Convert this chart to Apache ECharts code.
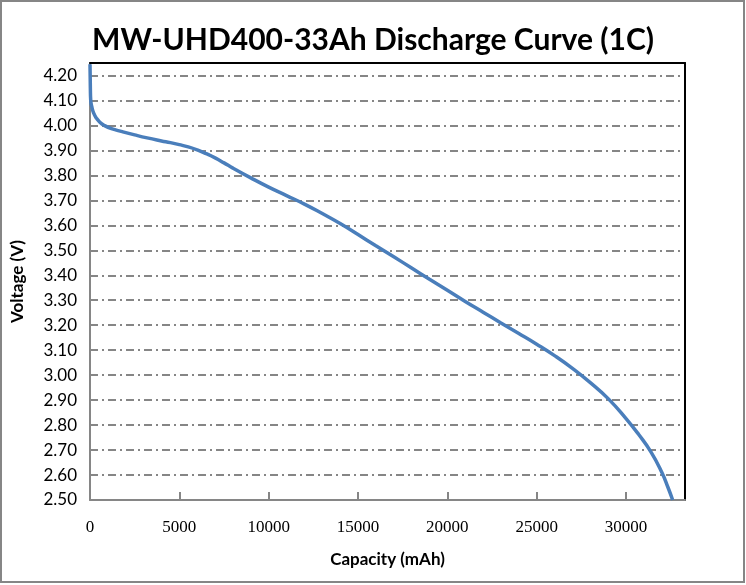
<!DOCTYPE html>
<html>
<head>
<meta charset="utf-8">
<script src="https://cdn.jsdelivr.net/npm/echarts@6/dist/echarts.min.js"></script>
<style>
  html, body { margin: 0; padding: 0; background: #fff; }
  #chart { width: 746px; height: 585px; }
</style>
</head>
<body>
<div id="chart"></div>
<script>
// discharge curve
const capacity = [0, 20, 40, 100, 200, 350, 550, 800, 1200, 1800, 2500, 3200, 4000, 4500,
  5000, 5500, 6000, 6500, 7000, 7500, 8000, 9000, 10000, 11000, 12000, 13000, 14000, 15000,
  16000, 17000, 18000, 19000, 20000, 21000, 22000, 23000, 24000, 25000, 26000, 27000, 28000,
  29000, 30000, 30700, 31400, 32000, 32350, 32609];
const voltage = [4.245, 4.15, 4.10, 4.075, 4.05, 4.03, 4.013, 4.00, 3.987, 3.975, 3.962,
  3.950, 3.938, 3.931, 3.923, 3.914, 3.902, 3.887, 3.870, 3.850, 3.829, 3.790, 3.753, 3.719,
  3.685, 3.647, 3.607, 3.563, 3.518, 3.474, 3.429, 3.384, 3.340, 3.295, 3.252, 3.209, 3.167,
  3.124, 3.078, 3.027, 2.970, 2.906, 2.826, 2.763, 2.692, 2.611, 2.550, 2.50];

const chartTitle = 'MW-UHD400-33Ah Discharge Curve (1C)';
const xName = 'Capacity (mAh)';
const yName = 'Voltage (V)';

const points = capacity.map((c, i) => [c, voltage[i]]);

const chart = echarts.init(document.getElementById('chart'));

const option = {
  animation: false,
  backgroundColor: '#fff',
  title: {
    text: chartTitle,
    left: 'center',
    top: 20,
    textStyle: { fontFamily: 'Lato', fontWeight: 'bold', fontSize: 30, color: '#000' },
  },
  grid: { left: 90, right: 61, top: 63, bottom: 85 },
  xAxis: [
    {
      type: 'value',
      min: 0,
      max: 33300,
      interval: 5000,
      name: xName,
      nameLocation: 'middle',
      nameGap: 51,
      nameTextStyle: { fontFamily: 'Lato', fontWeight: 'bold', fontSize: 17, color: '#000' },
      axisLine: { lineStyle: { color: '#868686', width: 2 } },
      axisTick: { inside: true, length: 8, lineStyle: { color: '#868686', width: 2 } },
      axisLabel: {
        showMaxLabel: false,
        margin: 19,
        fontFamily: 'Liberation Serif',
        fontSize: 17,
        color: '#000',
        formatter: v => String(v),
      },
      splitLine: { show: false },
    },
    {
      type: 'value',
      position: 'top',
      min: 0,
      max: 33300,
      axisLine: { onZero: false, lineStyle: { color: '#000', width: 2 } },
      axisTick: { show: false },
      axisLabel: { show: false },
      splitLine: { show: false },
    },
  ],
  yAxis: [
    {
      type: 'value',
      min: 2.5,
      max: 4.25,
      interval: 0.1,
      name: yName,
      nameLocation: 'middle',
      nameGap: 64,
      nameTextStyle: { fontFamily: 'Lato', fontWeight: 'bold', fontSize: 17, color: '#000' },
      axisLine: { onZero: false, lineStyle: { color: '#868686', width: 2 } },
      axisTick: { show: false },
      axisLabel: {
        showMaxLabel: false,
        margin: 13,
        fontFamily: 'Lato',
        fontSize: 17,
        color: '#000',
        formatter: v => v.toFixed(2),
      },
      splitLine: {
        lineStyle: { color: '#868686', width: 2, type: [8, 4, 2, 4] },
      },
    },
    {
      type: 'value',
      position: 'right',
      min: 2.5,
      max: 4.25,
      axisLine: { show: true, onZero: false, lineStyle: { color: '#000', width: 2 } },
      axisTick: { show: false },
      axisLabel: { show: false },
      splitLine: { show: false },
    },
  ],
  series: [
    {
      type: 'line',
      data: points,
      smooth: 0.5,
      showSymbol: false,
      lineStyle: { color: '#4a7ebb', width: 3.5 },
      z: 5,
    },
  ],
  graphic: [
    {
      type: 'rect',
      shape: { x: 1, y: 1, width: 743, height: 581 },
      style: { fill: null, stroke: '#868686', lineWidth: 2 },
      silent: true,
    },
  ],
};

chart.setOption(option);
</script>
</body>
</html>
